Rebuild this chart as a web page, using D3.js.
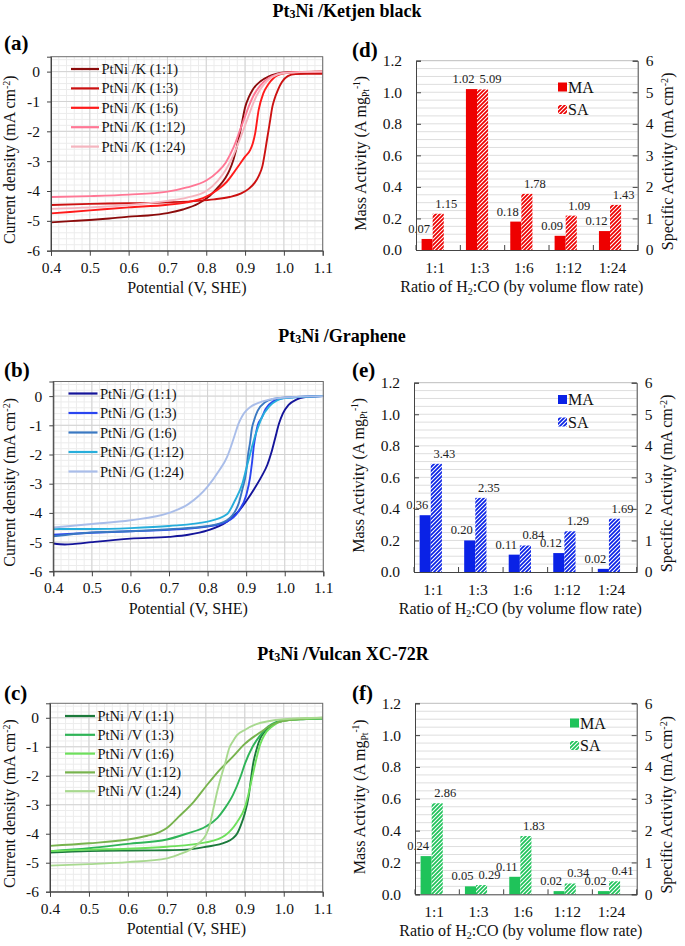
<!DOCTYPE html>
<html><head><meta charset="utf-8">
<script src="https://cdn.jsdelivr.net/npm/d3@7"></script>
<style>
html,body{margin:0;padding:0;background:#fff;}
svg{display:block;font-family:"Liberation Serif","Times New Roman",serif;}
</style></head>
<body><svg id="c" width="685" height="946"></svg>
<script>
// ---------------- DATA ----------------
const ratios = ["1:1","1:3","1:6","1:12","1:24"];
const potentialTicks = [0.4,0.5,0.6,0.7,0.8,0.9,1.0,1.1];
const currentTicks = [-6,-5,-4,-3,-2,-1,0];
const maTicks = [0,0.2,0.4,0.6,0.8,1.0,1.2];
const saTicks = [0,1,2,3,4,5,6];

// Panel (a) Ketjen black LSV curves [potential, current density]
const ketjen_1_1 = [[0.40,-5.05],[0.45,-5.01],[0.50,-4.97],[0.55,-4.92],[0.60,-4.86],[0.65,-4.82],[0.70,-4.74],[0.74,-4.62],[0.78,-4.42],[0.81,-4.15],[0.83,-3.88],[0.85,-3.55],[0.86,-3.3],[0.87,-2.95],[0.88,-2.45],[0.89,-1.85],[0.90,-1.2],[0.91,-0.85],[0.92,-0.6],[0.94,-0.32],[0.96,-0.17],[0.98,-0.08],[1.00,-0.03],[1.03,-0.01],[1.10,0]];
const ketjen_1_3 = [[0.40,-4.47],[0.50,-4.43],[0.60,-4.41],[0.70,-4.38],[0.78,-4.33],[0.82,-4.28],[0.86,-4.2],[0.89,-4.08],[0.91,-3.92],[0.925,-3.72],[0.935,-3.5],[0.945,-3.15],[0.95,-2.8],[0.955,-2.4],[0.96,-2.0],[0.965,-1.6],[0.97,-1.2],[0.975,-0.95],[0.985,-0.6],[0.995,-0.35],[1.01,-0.15],[1.03,-0.08],[1.06,-0.07],[1.10,-0.07]];
const ketjen_1_6 = [[0.40,-4.75],[0.50,-4.65],[0.60,-4.55],[0.70,-4.46],[0.75,-4.38],[0.80,-4.19],[0.83,-3.95],[0.853,-3.69],[0.87,-3.4],[0.888,-3.07],[0.90,-2.85],[0.913,-2.63],[0.92,-2.4],[0.926,-2.07],[0.935,-1.28],[0.947,-0.73],[0.96,-0.42],[0.973,-0.22],[1.00,-0.06],[1.03,-0.02],[1.10,0]];
const ketjen_1_12 = [[0.40,-4.2],[0.50,-4.17],[0.60,-4.12],[0.70,-4.02],[0.75,-3.88],[0.80,-3.65],[0.83,-3.35],[0.85,-3.05],[0.87,-2.55],[0.89,-1.85],[0.90,-1.5],[0.91,-1.15],[0.92,-0.85],[0.94,-0.45],[0.96,-0.22],[0.98,-0.1],[1.00,-0.04],[1.10,0]];
const ketjen_1_24 = [[0.40,-4.6],[0.50,-4.55],[0.60,-4.47],[0.70,-4.33],[0.75,-4.22],[0.80,-4.0],[0.83,-3.65],[0.85,-3.3],[0.87,-2.8],[0.89,-2.15],[0.90,-1.8],[0.91,-1.45],[0.92,-1.1],[0.93,-0.8],[0.95,-0.4],[0.97,-0.18],[1.00,-0.05],[1.10,0]];

// Panel (b) Graphene
const graphene_1_1 = [[0.40,-5.05],[0.43,-5.08],[0.45,-5.07],[0.50,-5.0],[0.60,-4.88],[0.70,-4.82],[0.75,-4.75],[0.80,-4.6],[0.85,-4.3],[0.88,-3.95],[0.90,-3.6],[0.92,-3.2],[0.94,-2.75],[0.955,-2.35],[0.965,-1.95],[0.975,-1.45],[0.985,-0.95],[0.995,-0.6],[1.01,-0.3],[1.03,-0.12],[1.05,-0.04],[1.10,0]];
const graphene_1_3 = [[0.40,-4.75],[0.50,-4.68],[0.60,-4.63],[0.70,-4.58],[0.80,-4.47],[0.85,-4.3],[0.88,-3.95],[0.90,-3.4],[0.91,-2.8],[0.915,-2.3],[0.92,-1.7],[0.925,-1.3],[0.93,-1.0],[0.94,-0.75],[0.95,-0.45],[0.97,-0.18],[1.00,-0.06],[1.10,0]];
const graphene_1_6 = [[0.40,-4.8],[0.50,-4.67],[0.60,-4.63],[0.70,-4.56],[0.80,-4.45],[0.85,-4.25],[0.88,-3.7],[0.89,-3.2],[0.90,-2.6],[0.905,-2.0],[0.91,-1.6],[0.915,-1.1],[0.92,-0.85],[0.93,-0.5],[0.95,-0.2],[0.97,-0.1],[1.00,-0.05],[1.10,0]];
const graphene_1_12 = [[0.40,-4.55],[0.50,-4.55],[0.60,-4.52],[0.70,-4.45],[0.80,-4.3],[0.85,-4.05],[0.87,-3.6],[0.89,-3.0],[0.90,-2.5],[0.91,-2.0],[0.92,-1.5],[0.93,-1.1],[0.94,-0.75],[0.96,-0.35],[0.98,-0.15],[1.00,-0.07],[1.10,0]];
const graphene_1_24 = [[0.40,-4.5],[0.50,-4.38],[0.60,-4.25],[0.70,-4.0],[0.75,-3.7],[0.80,-3.1],[0.83,-2.55],[0.85,-2.1],[0.86,-1.75],[0.87,-1.35],[0.88,-0.95],[0.89,-0.68],[0.90,-0.5],[0.91,-0.38],[0.93,-0.24],[0.96,-0.12],[1.00,-0.05],[1.10,0]];

// Panel (c) Vulcan XC-72R
const vulcan_1_1 = [[0.40,-4.65],[0.50,-4.6],[0.60,-4.58],[0.70,-4.57],[0.75,-4.55],[0.80,-4.45],[0.85,-4.3],[0.87,-4.15],[0.88,-4.0],[0.89,-3.7],[0.90,-3.3],[0.91,-2.7],[0.915,-2.2],[0.92,-1.7],[0.93,-1.1],[0.94,-0.7],[0.95,-0.5],[0.97,-0.25],[1.00,-0.1],[1.05,-0.05],[1.10,-0.03]];
const vulcan_1_3 = [[0.40,-4.6],[0.50,-4.5],[0.60,-4.35],[0.70,-4.2],[0.75,-4.0],[0.80,-3.75],[0.83,-3.45],[0.85,-3.1],[0.87,-2.65],[0.89,-2.0],[0.90,-1.6],[0.92,-1.0],[0.94,-0.6],[0.96,-0.3],[0.98,-0.15],[1.00,-0.08],[1.10,-0.02]];
const vulcan_1_6 = [[0.40,-4.6],[0.50,-4.55],[0.60,-4.52],[0.70,-4.45],[0.80,-4.3],[0.85,-4.05],[0.88,-3.6],[0.90,-3.1],[0.91,-2.6],[0.92,-2.0],[0.93,-1.4],[0.94,-0.9],[0.95,-0.6],[0.97,-0.3],[1.00,-0.1],[1.10,-0.02]];
const vulcan_1_12 = [[0.40,-4.42],[0.50,-4.33],[0.60,-4.2],[0.65,-4.07],[0.68,-3.95],[0.70,-3.8],[0.73,-3.42],[0.77,-2.88],[0.80,-2.37],[0.83,-1.88],[0.87,-1.33],[0.90,-0.9],[0.94,-0.5],[0.97,-0.24],[1.00,-0.1],[1.10,0]];
const vulcan_1_24 = [[0.40,-5.1],[0.50,-5.05],[0.60,-4.98],[0.70,-4.85],[0.73,-4.72],[0.76,-4.55],[0.78,-4.35],[0.80,-4.05],[0.81,-3.7],[0.82,-3.1],[0.83,-2.5],[0.84,-2.0],[0.85,-1.55],[0.86,-1.05],[0.87,-0.8],[0.88,-0.6],[0.90,-0.42],[0.93,-0.22],[0.96,-0.12],[1.00,-0.05],[1.10,0]];

// Bar data: mass activity (A mgPt^-1) and specific activity (mA cm^-2)
const ketjenMA = [0.07,1.02,0.18,0.09,0.12];
const ketjenSA = [1.15,5.09,1.78,1.09,1.43];
const grapheneMA = [0.36,0.20,0.11,0.12,0.02];
const grapheneSA = [3.43,2.35,0.84,1.29,1.69];
const vulcanMA = [0.24,0.05,0.11,0.02,0.02];
const vulcanSA = [2.86,0.29,1.83,0.34,0.41];

const ketjenNames = ratios.map(r=>"PtNi /K ("+r+")");
const grapheneNames = ratios.map(r=>"PtNi /G ("+r+")");
const vulcanNames = ratios.map(r=>"PtNi /V ("+r+")");

// ---------------- DRAWING ----------------
const svg = d3.select("#c");
const FS = 15.5;   // tick labels
const TS = 16;     // axis titles
const SERIF = "Liberation Serif";
const defs = svg.append("defs");

function hatch(id, color){
  const p = defs.append("pattern").attr("id",id).attr("patternUnits","userSpaceOnUse")
    .attr("width",4).attr("height",4);
  p.append("rect").attr("width",4).attr("height",4).attr("fill",color);
  p.append("path").attr("d","M-1,1 l2,-2 M0,4 l4,-4 M3,5 l2,-2")
    .attr("stroke","#fff").attr("stroke-width",1.1);
}

function title(rest, x, y){
  const t = svg.append("text").attr("x",x).attr("y",y).attr("text-anchor","middle")
    .attr("font-weight","bold").attr("font-size",18);
  t.append("tspan").text("Pt");
  t.append("tspan").attr("font-size",12).attr("dy",1).text("3");
  t.append("tspan").attr("dy",-1).text(rest);
}

function letter(txt,x,y){
  svg.append("text").attr("x",x).attr("y",y).attr("font-weight","bold")
    .attr("font-size",21).text(txt);
}

function styleAxis(a){
  a.attr("font-family",SERIF);
  a.select(".domain").attr("stroke","#444");
  a.selectAll(".tick line").attr("stroke","#444");
  a.selectAll("text").attr("font-size",FS).attr("fill","#111").attr("font-family",SERIF);
}

function linePanel(c, series, names, colors){
  const g = svg.append("g");
  const x = d3.scaleLinear().domain([0.4,1.1]).range([c.x0,c.x1]);
  const y = d3.scaleLinear().domain([-6,0.5]).range([c.y1,c.y0]);
  const minorX = d3.range(0,36).map(i=>+(0.4+i*0.02).toFixed(2));
  const minorY = d3.range(0,33).map(i=>+(-6+i*0.2).toFixed(1));
  g.selectAll(".mx").data(minorX).join("line").attr("x1",d=>x(d)).attr("x2",d=>x(d))
    .attr("y1",c.y0).attr("y2",c.y1).attr("stroke","#ececec").attr("stroke-width",1);
  g.selectAll(".my").data(minorY).join("line").attr("y1",d=>y(d)).attr("y2",d=>y(d))
    .attr("x1",c.x0).attr("x2",c.x1).attr("stroke","#ececec").attr("stroke-width",1);
  g.selectAll(".Mx").data(potentialTicks).join("line").attr("x1",d=>x(d)).attr("x2",d=>x(d))
    .attr("y1",c.y0).attr("y2",c.y1).attr("stroke","#d2d2d2").attr("stroke-width",1);
  g.selectAll(".My").data(currentTicks).join("line").attr("y1",d=>y(d)).attr("y2",d=>y(d))
    .attr("x1",c.x0).attr("x2",c.x1).attr("stroke","#d2d2d2").attr("stroke-width",1);
  const line = d3.line().x(d=>x(d[0])).y(d=>y(d[1])).curve(d3.curveMonotoneX);
  series.forEach((s,i)=>{
    g.append("path").attr("d",line(s)).attr("fill","none").attr("stroke",colors[i])
      .attr("stroke-width",1.9).attr("stroke-linejoin","round");
  });
  g.append("rect").attr("x",c.x0).attr("y",c.y0).attr("width",c.x1-c.x0).attr("height",c.y1-c.y0)
    .attr("fill","none").attr("stroke","#6e6e6e").attr("stroke-width",1);
  const ax = g.append("g").attr("transform",`translate(0,${c.y1})`)
    .call(d3.axisBottom(x).tickValues(potentialTicks).tickFormat(d3.format(".1f")).tickSize(5).tickPadding(6));
  const ay = g.append("g").attr("transform",`translate(${c.x0},0)`)
    .call(d3.axisLeft(y).tickValues(currentTicks).tickFormat(d=>String(d)).tickSize(4).tickPadding(7));
  styleAxis(ax); styleAxis(ay);
  g.append("text").attr("x",(c.x0+c.x1)/2).attr("y",c.y1+42.5).attr("text-anchor","middle")
    .attr("font-size",TS).attr("fill","#111").text("Potential (V, SHE)");
  const yt = g.append("text").attr("transform",`translate(${c.ytx},${(c.y0+c.y1)/2+6}) rotate(-90)`)
    .attr("text-anchor","middle").attr("font-size",TS).attr("fill","#111");
  yt.append("tspan").text("Current density (mA cm");
  yt.append("tspan").attr("font-size",10).attr("dy",-5).text("-2");
  yt.append("tspan").attr("dy",5).text(")");
  names.forEach((n,i)=>{
    const ly = c.ly + i*c.ldy;
    g.append("line").attr("x1",c.lx0).attr("x2",c.lx1).attr("y1",ly).attr("y2",ly)
      .attr("stroke",colors[i]).attr("stroke-width",2.2);
    g.append("text").attr("x",c.lx1+2.5).attr("y",ly).attr("dy","0.35em")
      .attr("font-size",14.5).attr("fill","#111").text(n);
  });
}

function barPanel(c, ma, sa, color, hid){
  hatch(hid, color);
  const g = svg.append("g");
  const xb = d3.scaleBand().domain(ratios).range([c.x0,c.x1]);
  const yl = d3.scaleLinear().domain([0,1.2]).range([c.y1,c.y0]);
  const yr = d3.scaleLinear().domain([0,6]).range([c.y1,c.y0]);
  const grid = d3.range(1,24).map(i=>+(i*0.05).toFixed(2));
  g.selectAll(".gl").data(grid).join("line").attr("x1",c.x0).attr("x2",c.x1)
    .attr("y1",d=>yl(d)).attr("y2",d=>yl(d)).attr("stroke","#dedede").attr("stroke-width",1);
  g.append("line").attr("x1",c.x0).attr("x2",c.x1).attr("y1",c.y0).attr("y2",c.y0)
    .attr("stroke","#bdbdbd");
  const bw = xb.bandwidth()*0.25;
  const shift = -5.5;
  const cx = i => xb(ratios[i])+xb.bandwidth()/2+shift;
  g.selectAll(".ma").data(ma).join("rect")
    .attr("x",(d,i)=>cx(i)-bw).attr("width",bw)
    .attr("y",d=>yl(d)).attr("height",d=>c.y1-yl(d)).attr("fill",color);
  g.selectAll(".sa").data(sa).join("rect")
    .attr("x",(d,i)=>cx(i)).attr("width",bw)
    .attr("y",d=>yr(d)).attr("height",d=>c.y1-yr(d)).attr("fill",`url(#${hid})`);
  g.selectAll(".mal").data(ma).join("text")
    .attr("x",(d,i)=>cx(i)-bw/2-8).attr("y",d=>yl(d)-6)
    .attr("text-anchor","middle").attr("font-size",12.5).attr("fill","#222").text(d=>d.toFixed(2));
  g.selectAll(".sal").data(sa).join("text")
    .attr("x",(d,i)=>cx(i)+bw/2+8).attr("y",d=>yr(d)-6)
    .attr("text-anchor","middle").attr("font-size",12.5).attr("fill","#222").text(d=>d.toFixed(2));
  const axL = g.append("g").attr("transform",`translate(${c.x0},0)`)
    .call(d3.axisRight(yl).tickValues(maTicks).tickFormat(d3.format(".1f")).tickSize(5).tickPadding(0));
  axL.selectAll("text").attr("x",-14).attr("text-anchor","end");
  const axR = g.append("g").attr("transform",`translate(${c.x1},0)`)
    .call(d3.axisLeft(yr).tickValues(saTicks).tickFormat(d3.format("d")).tickSize(5).tickPadding(0));
  axR.selectAll("text").attr("x",8).attr("text-anchor","start");
  const axB = g.append("g").attr("transform",`translate(0,${c.y1})`)
    .call(d3.axisBottom(xb).tickSize(0).tickPadding(0));
  axB.selectAll("text").attr("y",23).attr("dy",0).attr("dx",-3);
  g.selectAll(".bt").data(ratios.concat(["end"])).join("line")
    .attr("x1",(d,i)=>i<5?xb(d):c.x1).attr("x2",(d,i)=>i<5?xb(d):c.x1)
    .attr("y1",c.y1).attr("y2",c.y1-5).attr("stroke","#444");
  [axL,axR,axB].forEach(styleAxis);
  const xt = g.append("text").attr("x",(c.x0+c.x1)/2-5).attr("y",c.y1+42).attr("text-anchor","middle")
    .attr("font-size",TS).attr("fill","#111");
  xt.append("tspan").text("Ratio of H");
  xt.append("tspan").attr("font-size",10).attr("dy",3).text("2");
  xt.append("tspan").attr("dy",-3).text(":CO (by volume flow rate)");
  const yt = g.append("text").attr("transform",`translate(${c.x0-50},${(c.y0+c.y1)/2-2}) rotate(-90)`)
    .attr("text-anchor","middle").attr("font-size",TS).attr("fill","#111");
  yt.append("tspan").text("Mass Activity (A mg");
  yt.append("tspan").attr("font-size",9.5).attr("dy",3).text("Pt");
  yt.append("tspan").attr("font-size",9.5).attr("dy",-9).text("-1");
  yt.append("tspan").attr("dy",6).text(")");
  const yr2 = g.append("text").attr("transform",`translate(${c.x1+35},${(c.y0+c.y1)/2+6}) rotate(-90)`)
    .attr("text-anchor","middle").attr("font-size",TS).attr("fill","#111");
  yr2.append("tspan").text("Specific Activity (mA cm");
  yr2.append("tspan").attr("font-size",10).attr("dy",-5).text("-2");
  yr2.append("tspan").attr("dy",5).text(")");
  g.append("rect").attr("x",c.lgx).attr("y",c.lgy-4.5).attr("width",9).attr("height",9).attr("fill",color);
  g.append("text").attr("x",c.lgx+10).attr("y",c.lgy).attr("dy","0.35em").attr("font-size",TS).attr("fill","#111").text("MA");
  g.append("rect").attr("x",c.lgx).attr("y",c.lgy+22.5-4.5).attr("width",9).attr("height",9).attr("fill",`url(#${hid})`);
  g.append("text").attr("x",c.lgx+10).attr("y",c.lgy+22.5).attr("dy","0.35em").attr("font-size",TS).attr("fill","#111").text("SA");
}

title("Ni /Ketjen black", 347, 17);
title("Ni /Graphene", 342, 342);
title("Ni /Vulcan XC-72R", 343, 660);
letter("(a)",4,50); letter("(b)",4,377); letter("(c)",4,700);
letter("(d)",352,57); letter("(e)",352,377); letter("(f)",352,700);

const redCols = ["#8b0b0b","#cc1111","#ff1a1a","#ff7795","#f5b5bf"];
const blueCols = ["#14149a","#2a45f0","#3a78c2","#27aedb","#a9bde9"];
const greenCols = ["#1b7a3b","#2fb457","#6ee05c","#77b34d","#a8d98f"];

linePanel({x0:51,x1:322.7,y0:56.7,y1:250.7,ytx:15,lx0:71,lx1:99,ly:69,ldy:19.4},
  [ketjen_1_1,ketjen_1_3,ketjen_1_6,ketjen_1_12,ketjen_1_24], ketjenNames, redCols);
linePanel({x0:53.3,x1:323.3,y0:381.5,y1:571.3,ytx:15,lx0:68.5,lx1:97.5,ly:393.5,ldy:19.5},
  [graphene_1_1,graphene_1_3,graphene_1_6,graphene_1_12,graphene_1_24], grapheneNames, blueCols);
linePanel({x0:50,x1:322.7,y0:703.3,y1:891.7,ytx:15,lx0:65,lx1:95,ly:716,ldy:18.8},
  [vulcan_1_1,vulcan_1_3,vulcan_1_6,vulcan_1_12,vulcan_1_24], vulcanNames, greenCols);

barPanel({x0:416,x1:637.7,y0:60.7,y1:250,lgx:558,lgy:87}, ketjenMA, ketjenSA, "#ee0000", "hR");
barPanel({x0:414,x1:636.7,y0:382.7,y1:572,lgx:558,lgy:399.5}, grapheneMA, grapheneSA, "#0a22e6", "hB");
barPanel({x0:415,x1:636.7,y0:703.3,y1:894.3,lgx:570,lgy:723}, vulcanMA, vulcanSA, "#1fc35a", "hG");
</script></body></html>
